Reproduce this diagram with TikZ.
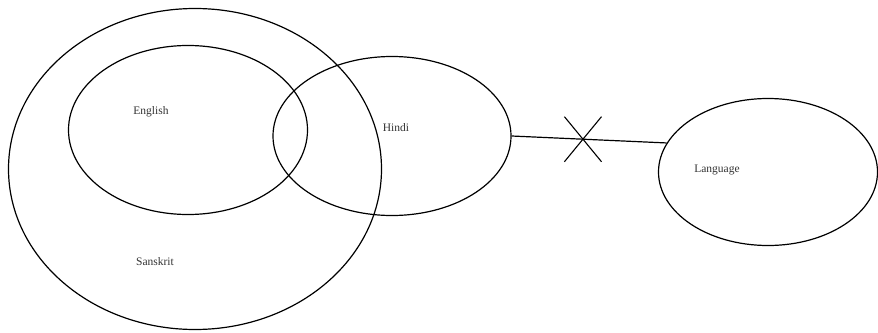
\documentclass[tikz,border=0pt]{standalone}
\usepackage{fontspec}
\setmainfont{Liberation Serif}
\usetikzlibrary{shapes.geometric,shapes.misc}
\begin{document}
\begin{tikzpicture}[x=1pt, y=-1pt,
  set/.style={draw, ellipse, line width=1.2pt, inner sep=0pt},
  lbl/.style={font=\fontsize{11.5}{13}\selectfont, text=black!80, inner sep=0pt},
  nolink/.style={draw, cross out, line width=1.1pt, minimum width=36pt, minimum height=44pt, inner sep=0pt}]
\useasboundingbox (0,0) rectangle (878,332);
\foreach \name/\x/\y/\w/\h in {sanskrit/195/169/373/321,
                               english/188/130/239/169,
                               hindi/392/136/238/159,
                               lang/768/172/219/147} {
  \node[set, minimum width=\w pt, minimum height=\h pt] (\name) at (\x,\y) {};
}
\node[lbl] (tEnglish) at (151,112) {English};
\node[lbl] (tHindi) at (396,128) {Hindi};
\node[lbl] (tLang) at (717,170) {Language};
\node[lbl] (tSanskrit) at (155,262) {Sanskrit};
\draw[line width=1.2pt] (hindi.east) -- node[nolink, pos=0.46] (cut) {} (lang.164);
\end{tikzpicture}
\end{document}
